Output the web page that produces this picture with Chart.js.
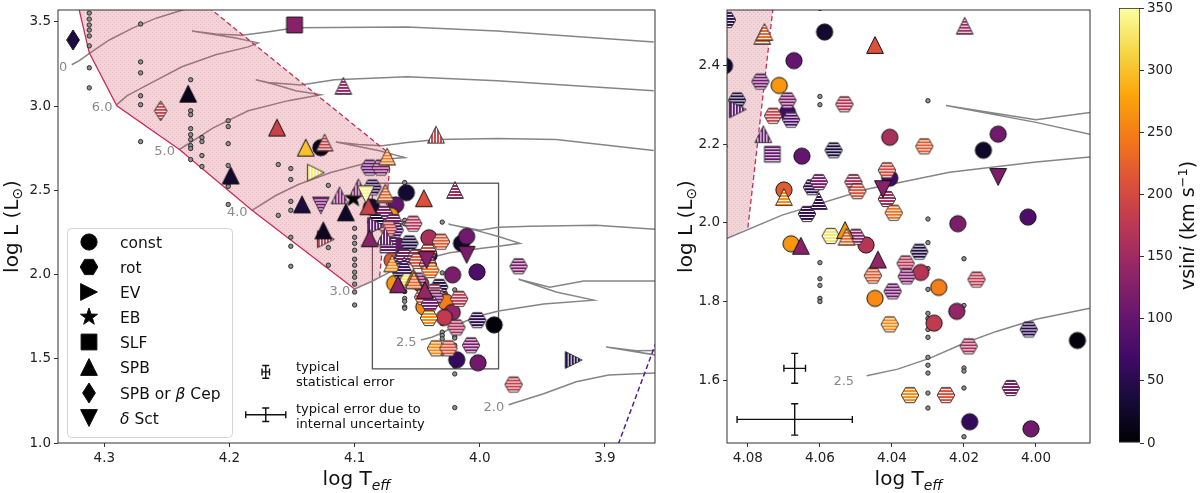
<!DOCTYPE html>
<html>
<head>
<meta charset="utf-8">
<script src="https://cdn.jsdelivr.net/npm/chart.js@4.4.1/dist/chart.umd.min.js"></script>
<style>
  html, body { margin: 0; padding: 0; background: #fff; }
  #wrap { position: relative; width: 1200px; height: 493px; overflow: hidden; }
  .pane { position: absolute; top: 0; }
</style>
</head>
<body>
<div id="wrap">
  <div class="pane" style="left:0"><canvas id="hrdFull" width="665" height="493"></canvas></div>
  <div class="pane" style="left:665px"><canvas id="hrdZoom" width="435" height="493"></canvas></div>
  <div class="pane" style="left:1100px"><canvas id="cbar" width="100" height="493"></canvas></div>
</div>
<script>
/* HR diagram of the sample: full view, zoom on the box, vsini colour bar */

const FONT = 'DejaVu Sans';

// axis ranges and ticks
const fullTRange = [3.86, 4.337];
const fullLRange = [1.0, 3.57];
const zoomTRange = [3.985, 4.0858];
const zoomLRange = [1.44, 2.542];
const fullTTicks = [4.3, 4.2, 4.1, 4.0, 3.9];
const fullLTicks = [1.0, 1.5, 2.0, 2.5, 3.0, 3.5];
const zoomTTicks = [4.08, 4.06, 4.04, 4.02, 4.00];
const zoomLTicks = [1.6, 1.8, 2.0, 2.2, 2.4];
const cbarRange = [0, 350];
const cbarTicks = [0, 50, 100, 150, 200, 250, 300, 350];

// classified stars: log Teff, log L, vsini, class, hatch (0 none, 1 horizontal, 2 vertical)
// classes: C const, R rot, E EV, B EB, Q SLF, T SPB, D SPB or beta Cep, V delta Sct
const starTeff = [
  4.325, 4.148, 4.109, 4.255, 4.233, 4.162, 4.139, 4.127, 4.124, 4.131,
  4.199, 4.142, 4.127, 4.112, 4.097, 4.101, 4.107, 4.074, 4.088, 4.079,
  4.091, 4.076, 4.089, 4.125, 4.123, 4.088, 4.035, 3.969, 3.925, 3.973,
  4.0865, 4.0858, 4.0754, 4.0587, 4.0447, 4.0198, 4.0672, 4.0765, 4.0713, 4.0830,
  4.0828, 4.0690, 4.0690, 4.0680, 4.0730, 4.0532, 4.0757, 4.0732, 4.0650, 4.0562,
  4.0406, 4.0310, 4.0146, 4.0105, 4.0105, 4.0022, 4.0700, 4.0700, 4.0622, 4.0603,
  4.0603, 4.0636, 4.0414, 4.0406, 4.0425, 4.0507, 4.0496, 4.0414, 4.0395, 4.0217,
  4.0570, 4.0530, 4.0526, 4.0500, 4.0680, 4.0653, 4.0472, 4.0324, 4.0439, 4.0362,
  4.0359, 4.0320, 4.0453, 4.0270, 4.0165, 4.0398, 4.0447, 4.0220, 4.0283, 4.0406,
  4.0020, 4.0187, 4.0070, 4.0350, 4.0250, 4.0184, 4.0014, 3.9885
];
const starLogL = [
  3.392, 3.481, 3.120, 2.972, 3.073, 2.872, 2.753, 2.753, 2.783, 2.605,
  2.588, 2.416, 2.410, 2.470, 2.517, 2.452, 2.369, 2.700, 2.635, 2.635,
  2.476, 2.476, 2.405, 2.262, 2.209, 2.215, 2.830, 2.049, 1.493, 1.347,
  2.400, 2.517, 2.486, 2.486, 2.453, 2.502, 2.413, 2.360, 2.350, 2.312,
  2.289, 2.312, 2.281, 2.263, 2.273, 2.302, 2.226, 2.175, 2.170, 2.185,
  2.218, 2.195, 2.185, 2.226, 2.117, 2.015, 2.084, 2.066, 2.091, 2.104,
  2.056, 2.023, 2.134, 2.114, 2.086, 2.104, 2.081, 2.061, 2.026, 1.998,
  1.967, 1.982, 1.965, 1.965, 1.947, 1.942, 1.944, 1.927, 1.907, 1.897,
  1.864, 1.874, 1.866, 1.836, 1.856, 1.826, 1.808, 1.775, 1.745, 1.742,
  1.729, 1.686, 1.580, 1.562, 1.562, 1.494, 1.476, 1.701
];
const starVsini = [
  40, 130, 140, 190, 15, 190, 300, 15, 190, 330,
  30, 40, 110, 120, 120, 0, 25, 250, 100, 120,
  340, 230, 190, 20, 180, 130, 190, 120, 40, 190,
  30, 50, 230, 30, 210, 150, 100, 110, 270, 40,
  90, 120, 70, 80, 190, 170, 100, 100, 100, 40,
  160, 220, 25, 110, 120, 80, 220, 260, 50, 120,
  60, 50, 200, 70, 130, 160, 210, 160, 240, 120,
  330, 270, 230, 130, 270, 130, 170, 40, 140, 170,
  120, 170, 220, 250, 180, 110, 260, 140, 180, 260,
  50, 160, 120, 260, 210, 60, 110, 5
];
const starClass = [
  'D','Q','T','D','T','T','T','C','T','E',
  'T','T','V','T','T','B','T','T','R','R',
  'V','T','T','T','E','T','T','R','E','R',
  'C','R','T','C','T','T','C','R','C','R',
  'E','R','C','R','R','R','T','Q','C','R',
  'C','R','C','C','V','C','C','T','R','R',
  'T','R','R','C','V','R','R','R','R','C',
  'R','T','T','R','C','T','C','R','T','R',
  'R','C','R','C','R','R','C','C','C','R',
  'R','R','R','R','R','C','C','C'
];
const starHatch = [
  0, 0, 1, 1, 0, 0, 0, 0, 1, 2,
  0, 0, 1, 2, 2, 0, 0, 1, 1, 1,
  1, 1, 0, 0, 2, 0, 2, 1, 2, 1,
  0, 1, 1, 0, 0, 1, 0, 1, 0, 1,
  2, 1, 0, 1, 1, 1, 2, 1, 0, 1,
  0, 1, 0, 0, 0, 0, 0, 1, 1, 1,
  1, 1, 1, 0, 0, 1, 1, 1, 1, 0,
  1, 0, 1, 1, 0, 0, 0, 1, 0, 1,
  1, 0, 1, 0, 1, 1, 0, 0, 0, 1,
  1, 1, 1, 1, 1, 0, 0, 0
];

// stars without classification (small dots), grouped by log Teff
const dotTeff = [4.312, 4.271, 4.231, 4.222, 4.201, 4.161, 4.151, 4.121, 4.100, 4.060, 4.030, 4.020];
const dotLogL = [
  [3.552, 3.516, 3.481, 3.451, 3.416, 3.357, 3.227, 3.108],
  [3.487, 3.262, 3.197, 3.061, 3.008, 2.789],
  [3.156, 2.972, 2.949, 2.866, 2.830, 2.801, 2.765, 2.748, 2.682],
  [2.813, 2.789, 2.706, 2.641],
  [2.913, 2.878, 2.777, 2.647, 2.535, 2.523, 2.416],
  [2.653, 2.351],
  [2.629, 2.564, 2.434, 2.381, 2.221, 2.168, 2.049],
  [2.529, 2.160, 2.055],
  [2.274, 2.221, 2.185, 2.144, 2.091, 2.055, 2.014, 1.984, 1.943, 1.896, 1.819],
  [2.546, 2.322, 2.301, 1.899, 1.858, 1.841, 1.808, 1.800],
  [2.311, 2.010, 1.950, 1.884, 1.831, 1.770, 1.757, 1.729, 1.709, 1.658, 1.638, 1.618, 1.567, 1.529],
  [1.909, 1.790, 1.631, 1.623, 1.580, 1.456, 1.410, 1.210]
];

// evolutionary tracks [log Teff, log L]
const track70 = [[4.326,3.245],[4.320,3.270],[4.309,3.327],[4.296,3.392],[4.277,3.464],[4.258,3.523],[4.240,3.564],[4.215,3.620]];
const track60 = [[4.290,3.008],[4.282,3.060],[4.264,3.132],[4.238,3.233],[4.211,3.304],[4.185,3.351],[4.177,3.375],[4.195,3.404],[4.230,3.446],[4.211,3.428],[4.190,3.420],[4.170,3.440],[4.147,3.464],[4.058,3.469],[3.986,3.446],[3.861,3.380]];
const track50 = [[4.240,2.742],[4.213,2.870],[4.185,2.972],[4.153,3.032],[4.127,3.067],[4.147,3.091],[4.163,3.126],[4.179,3.156],[4.169,3.140],[4.143,3.125],[4.116,3.156],[4.058,3.174],[3.986,3.150],[3.861,3.091]];
const track40 = [[4.182,2.381],[4.163,2.469],[4.145,2.534],[4.119,2.605],[4.092,2.659],[4.069,2.688],[4.060,2.694],[4.081,2.736],[4.115,2.786],[4.097,2.771],[4.078,2.765],[4.058,2.783],[4.034,2.801],[3.986,2.807],[3.939,2.801],[3.861,2.736]];
const track30 = [[4.100,1.914],[4.086,1.960],[4.0705,2.020],[4.047,2.086],[4.024,2.129],[4.000,2.155],[3.985,2.168],[3.968,2.185],[3.985,2.226],[4.000,2.256],[4.025,2.299],[4.000,2.263],[3.985,2.281],[3.960,2.287],[3.907,2.292],[3.859,2.268]];
const track25 = [[4.047,1.611],[4.0384,1.628],[4.0294,1.656],[4.020,1.694],[4.011,1.724],[4.000,1.755],[3.985,1.783],[3.949,1.825],[3.909,1.848],[3.939,1.896],[3.969,1.972],[3.944,1.925],[3.917,1.961],[3.859,1.961]];
const track20 = [[3.977,1.227],[3.949,1.292],[3.923,1.363],[3.897,1.404],[3.860,1.416],[3.840,1.420]];
const track20hook = [[3.840,1.515],[3.860,1.523],[3.899,1.570],[3.875,1.548],[3.840,1.550]];
const trackMass = ['7.0', '6.0', '5.0', '4.0', '3.0', '2.5', '2.0'];

// SPB instability strip (solid and dashed edges) and delta Sct blue edge
const stripSolid = [[4.321,3.60],[4.312,3.316],[4.290,3.002],[4.240,2.742],[4.182,2.381],[4.100,1.914]];
const stripBottom = [[4.086,1.960]];
const stripDashed = [[4.080,1.988],[4.071,2.710],[4.219,3.60]];
const dsctEdge = [[3.8915,0.95],[3.859,1.60]];

// typical error bars: [log Teff, log L] half sizes, and where they sit in each panel
const errHalfT = [0.003, 0.016];
const errHalfL = [0.038, 0.040];
const errFullT = [4.171, 4.171];
const errFullL = [1.422, 1.168];
const errZoomT = [4.067, 4.067];
const errZoomL = [1.630, 1.500];

const CLASS_ORDER = ['C', 'R', 'E', 'B', 'Q', 'T', 'D', 'V'];
const CLASS_LABEL = {
  C: [['const']], R: [['rot']], E: [['EV']], B: [['EB']], Q: [['SLF']], T: [['SPB']],
  D: [['SPB or '], ['β', 1], [' Cep']], V: [['δ', 1], [' Sct']]
};

const INFERNO = ['#000004','#160b39','#420a68','#6a176e','#932667','#bc3754','#dd513a','#f37819','#fca50a','#f6d746','#fcffa4'];

function hexRgb(h) { return [1, 3, 5].map(i => parseInt(h.substr(i, 2), 16)); }
function cmap(v) {
  const n = INFERNO.length - 1;
  const t = Math.max(0, Math.min(1, (v - cbarRange[0]) / (cbarRange[1] - cbarRange[0]))) * n;
  const i = Math.min(Math.floor(t), n - 1), f = t - i;
  const a = hexRgb(INFERNO[i]), b = hexRgb(INFERNO[i + 1]);
  return `rgb(${a.map((c, k) => Math.round(c + (b[k] - c) * f)).join(',')})`;
}

function markerPath(g, cls) {
  g.beginPath();
  const r = 8.4;
  if (cls === 'C') g.arc(0, 0, 8.1, 0, Math.PI * 2);
  else if (cls === 'R') {
    for (let k = 0; k < 6; k++) {
      const a = k * Math.PI / 3;
      g[k ? 'lineTo' : 'moveTo'](8.8 * Math.cos(a), 8.8 * Math.sin(a));
    }
  } else if (cls === 'E') { g.moveTo(r, 0); g.lineTo(-r, -r); g.lineTo(-r, r); }
  else if (cls === 'T') { g.moveTo(0, -r); g.lineTo(r, r); g.lineTo(-r, r); }
  else if (cls === 'V') { g.moveTo(0, r); g.lineTo(-r, -r); g.lineTo(r, -r); }
  else if (cls === 'Q') g.rect(-7.9, -7.9, 15.8, 15.8);
  else if (cls === 'D') { g.moveTo(0, -10); g.lineTo(6.4, 0); g.lineTo(0, 10); g.lineTo(-6.4, 0); }
  else if (cls === 'B') {
    for (let k = 0; k < 10; k++) {
      const a = -Math.PI / 2 + k * Math.PI / 5, rr = k % 2 ? 3.6 : 9;
      g[k ? 'lineTo' : 'moveTo'](rr * Math.cos(a), rr * Math.sin(a));
    }
  }
  g.closePath();
}

function makeMarker(cls, color, hatch) {
  const c = document.createElement('canvas');
  c.width = c.height = 24;
  const g = c.getContext('2d');
  g.translate(12, 12);
  markerPath(g, cls);
  g.fillStyle = color;
  g.fill();
  if (hatch) {
    g.save();
    g.clip();
    g.strokeStyle = '#fff';
    g.lineWidth = 1.1;
    g.beginPath();
    for (let p = -12; p <= 12; p += 3) {
      if (hatch === 1) { g.moveTo(-12, p + 0.5); g.lineTo(12, p + 0.5); }
      else { g.moveTo(p + 0.5, -12); g.lineTo(p + 0.5, 12); }
    }
    g.stroke();
    g.restore();
    markerPath(g, cls);
  }
  g.lineWidth = 1;
  g.strokeStyle = hatch ? '#3a3a3a' : '#111';
  g.stroke();
  return c;
}

const starImages = starClass.map((c, i) => makeMarker(c, cmap(starVsini[i]), starHatch[i]));
const legendImages = CLASS_ORDER.map(c => makeMarker(c, '#000', 0));

const toXY = arr => arr.map(p => ({ x: p[0], y: p[1] }));

const patterns = new WeakMap();
function stripFill(c) {
  const ctx = c.chart.ctx;
  if (!patterns.has(ctx)) {
    const t = document.createElement('canvas');
    t.width = t.height = 4;
    const g = t.getContext('2d');
    g.fillStyle = 'rgba(205,88,108,0.26)';
    g.fillRect(0, 0, 4, 4);
    g.fillStyle = 'rgba(185,60,85,0.20)';
    g.fillRect(0, 0, 1, 1); g.fillRect(2, 2, 1, 1);
    patterns.set(ctx, ctx.createPattern(t, 'repeat'));
  }
  return patterns.get(ctx);
}

function hrDatasets() {
  const ds = [];
  [track70, track60, track50, track40, track30, track25, track20, track20hook].forEach(t => ds.push({
    data: toXY(t), showLine: true, borderColor: '#858585', borderWidth: 1.5,
    pointRadius: 0, fill: false, order: 30, clip: 0
  }));
  ds.push({
    data: toXY(stripSolid.concat(stripBottom, stripDashed)), showLine: true,
    borderColor: 'rgba(0,0,0,0)', borderWidth: 0, pointRadius: 0,
    fill: 'shape', backgroundColor: stripFill, order: 29, clip: 0
  });
  ds.push({ data: toXY(stripSolid), showLine: true, borderColor: '#c62d5b', borderWidth: 1.3, pointRadius: 0, order: 28, clip: 0 });
  ds.push({ data: toXY(stripDashed), showLine: true, borderColor: '#c62d5b', borderWidth: 1.3, borderDash: [5, 3], pointRadius: 0, order: 28, clip: 0 });
  ds.push({ data: toXY(dsctEdge), showLine: true, borderColor: '#5b1a8e', borderWidth: 1.5, borderDash: [5, 3], pointRadius: 0, order: 28, clip: 0 });
  const dots = [];
  dotTeff.forEach((t, i) => dotLogL[i].forEach(l => dots.push({ x: t, y: l })));
  ds.push({
    data: dots, pointRadius: 2.2, pointBackgroundColor: '#8e8e8e',
    pointBorderColor: '#222', pointBorderWidth: 0.9, order: 25, clip: 0
  });
  CLASS_ORDER.forEach((cls, k) => {
    const idx = starClass.map((c, i) => c === cls ? i : -1).filter(i => i >= 0);
    ds.push({
      data: idx.map(i => ({ x: starTeff[i], y: starLogL[i] })),
      pointStyle: idx.map(i => starImages[i]),
      pointRadius: 9, order: 17 - k, clip: 0
    });
  });
  return ds;
}

function hrOptions(tRange, lRange, tTicks, lTicks, tDec, yWidth, padRight) {
  const tickFont = { family: FONT, size: 13.5 };
  return {
    responsive: false, animation: false, events: [],
    layout: { padding: { left: 0, right: padRight, top: 7, bottom: 0 } },
    plugins: { legend: { display: false }, tooltip: { enabled: false } },
    scales: {
      x: {
        type: 'linear', reverse: true, min: tRange[0], max: tRange[1],
        afterBuildTicks: s => { s.ticks = tTicks.map(v => ({ value: v })); },
        afterFit: s => { s.height = 50; s.paddingLeft = 0; s.paddingRight = 0; },
        ticks: { callback: v => v.toFixed(tDec), font: tickFont, color: '#222', padding: 3, maxRotation: 0, autoSkip: false },
        grid: { drawOnChartArea: false, drawTicks: true, tickLength: 4, color: '#333' },
        border: { display: false }
      },
      y: {
        type: 'linear', min: lRange[0], max: lRange[1],
        afterBuildTicks: s => { s.ticks = lTicks.map(v => ({ value: v })); },
        afterFit: s => { s.width = yWidth; s.paddingTop = 0; s.paddingBottom = 0; },
        ticks: { callback: v => v.toFixed(1), font: tickFont, color: '#222', padding: 3, autoSkip: false },
        grid: { drawOnChartArea: false, drawTicks: true, tickLength: 4, color: '#333' },
        border: { display: false }
      }
    }
  };
}

// text made of runs with their own font / shift
function drawRuns(ctx, x, y, runs, align, rot) {
  ctx.save();
  ctx.translate(x, y);
  if (rot) ctx.rotate(rot);
  let w = 0;
  runs.forEach(r => { ctx.font = r.f; w += ctx.measureText(r.t).width; });
  let cx = align === 'center' ? -w / 2 : align === 'right' ? -w : 0;
  ctx.textAlign = 'left';
  ctx.textBaseline = 'alphabetic';
  ctx.fillStyle = '#111';
  runs.forEach(r => { ctx.font = r.f; ctx.fillText(r.t, cx, r.dy || 0); cx += ctx.measureText(r.t).width; });
  ctx.restore();
}

function drawAxisTitles(chart, yTitleX) {
  const a = chart.chartArea, ctx = chart.ctx;
  drawRuns(ctx, (a.left + a.right) / 2, 485, [
    { t: 'log T', f: `20px ${FONT}` },
    { t: 'eff', f: `italic 14px ${FONT}`, dy: 5 }
  ], 'center');
  drawRuns(ctx, yTitleX, (a.top + a.bottom) / 2, [
    { t: 'log L (L', f: `20px ${FONT}` },
    { t: '⊙', f: `14px ${FONT}`, dy: 4 },
    { t: ')', f: `20px ${FONT}` }
  ], 'center', -Math.PI / 2);
}

function drawFrame(chart) {
  const a = chart.chartArea, ctx = chart.ctx;
  ctx.save();
  ctx.strokeStyle = '#333';
  ctx.lineWidth = 1;
  ctx.strokeRect(a.left, a.top, a.right - a.left, a.bottom - a.top);
  ctx.restore();
}

function drawTrackLabels(chart) {
  const { ctx, chartArea: a, scales: { x, y } } = chart;
  const starts = [track70, track60, track50, track40, track30, track25, track20].map(t => t[0]);
  ctx.save();
  ctx.beginPath();
  ctx.rect(a.left, a.top, a.right - a.left, a.bottom - a.top);
  ctx.clip();
  ctx.font = `13px ${FONT}`;
  ctx.fillStyle = '#8a8a8a';
  ctx.textAlign = 'right';
  ctx.textBaseline = 'middle';
  starts.forEach((p, i) => {
    ctx.fillText(trackMass[i], x.getPixelForValue(p[0] + 0.0035), y.getPixelForValue(p[1] - 0.015));
  });
  ctx.restore();
}

function drawErrors(chart, ts, ls) {
  const { ctx, scales: { x, y } } = chart;
  ctx.save();
  ctx.strokeStyle = '#111';
  ctx.lineWidth = 1.4;
  ts.forEach((t, i) => {
    const cx = x.getPixelForValue(t), cy = y.getPixelForValue(ls[i]);
    const x1 = x.getPixelForValue(t + errHalfT[i]), x2 = x.getPixelForValue(t - errHalfT[i]);
    const y1 = y.getPixelForValue(ls[i] + errHalfL[i]), y2 = y.getPixelForValue(ls[i] - errHalfL[i]);
    const cap = 3.5;
    ctx.beginPath();
    ctx.moveTo(x1, cy); ctx.lineTo(x2, cy);
    ctx.moveTo(cx, y1); ctx.lineTo(cx, y2);
    ctx.moveTo(x1, cy - cap); ctx.lineTo(x1, cy + cap);
    ctx.moveTo(x2, cy - cap); ctx.lineTo(x2, cy + cap);
    ctx.moveTo(cx - cap, y1); ctx.lineTo(cx + cap, y1);
    ctx.moveTo(cx - cap, y2); ctx.lineTo(cx + cap, y2);
    ctx.stroke();
  });
  ctx.restore();
}

function drawLegend(chart) {
  const ctx = chart.ctx;
  ctx.save();
  ctx.beginPath();
  ctx.roundRect(67.5, 228.5, 165, 209, 4);
  ctx.fillStyle = 'rgba(255,255,255,0.85)';
  ctx.fill();
  ctx.strokeStyle = '#d4d4d4';
  ctx.lineWidth = 1;
  ctx.stroke();
  const rows = [242, 267, 292, 317, 342, 367, 393, 418];
  CLASS_ORDER.forEach((cls, k) => {
    const img = legendImages[k];
    ctx.drawImage(img, 89 - img.width / 2, rows[k] - img.height / 2);
    drawRuns(ctx, 120, rows[k] + 5.5, CLASS_LABEL[cls].map(p => ({
      t: p[0], f: `${p[1] ? 'italic ' : ''}15.5px ${FONT}`
    })), 'left');
  });
  ctx.restore();
}

// left panel: full diagram
new Chart(document.getElementById('hrdFull'), {
  type: 'scatter',
  data: { datasets: hrDatasets() },
  options: hrOptions(fullTRange, fullLRange, fullTTicks, fullLTicks, 1, 58, 6),
  plugins: [{
    id: 'zoomBox',
    beforeDatasetsDraw(chart) {
      const { ctx, scales: { x, y } } = chart;
      const l = x.getPixelForValue(zoomTRange[1]), r = x.getPixelForValue(zoomTRange[0]);
      const t = y.getPixelForValue(zoomLRange[1]), b = y.getPixelForValue(zoomLRange[0]);
      ctx.save();
      ctx.strokeStyle = '#555';
      ctx.lineWidth = 1.3;
      ctx.strokeRect(l, t, r - l, b - t);
      ctx.restore();
    }
  }, {
    id: 'annot',
    afterDatasetsDraw(chart) {
      drawTrackLabels(chart);
      drawErrors(chart, errFullT, errFullL);
      const ctx = chart.ctx;
      ctx.save();
      ctx.font = `13px ${FONT}`;
      ctx.fillStyle = '#111';
      ctx.textBaseline = 'middle';
      ctx.fillText('typical', 296, 368);
      ctx.fillText('statistical error', 296, 383);
      ctx.fillText('typical error due to', 296, 410);
      ctx.fillText('internal uncertainty', 296, 425);
      ctx.restore();
    },
    afterDraw(chart) {
      drawFrame(chart);
      drawLegend(chart);
      drawAxisTitles(chart, 18);
    }
  }]
});

// right panel: zoom on the box
new Chart(document.getElementById('hrdZoom'), {
  type: 'scatter',
  data: { datasets: hrDatasets() },
  options: hrOptions(zoomTRange, zoomLRange, zoomTTicks, zoomLTicks, 2, 62, 5),
  plugins: [{
    id: 'annot',
    afterDatasetsDraw(chart) {
      drawTrackLabels(chart);
      drawErrors(chart, errZoomT, errZoomL);
    },
    afterDraw(chart) {
      drawFrame(chart);
      drawAxisTitles(chart, 27);
    }
  }]
});

// colour bar
new Chart(document.getElementById('cbar'), {
  type: 'bar',
  data: {
    labels: ['vsini'],
    datasets: [{
      data: [cbarRange],
      backgroundColor(c) {
        const a = c.chart.chartArea;
        if (!a) return '#000';
        const g = c.chart.ctx.createLinearGradient(0, a.bottom, 0, a.top);
        INFERNO.forEach((col, i) => g.addColorStop(i / (INFERNO.length - 1), col));
        return g;
      },
      borderColor: '#222', borderWidth: 1, borderSkipped: false,
      barPercentage: 1, categoryPercentage: 1
    }]
  },
  options: {
    responsive: false, animation: false, events: [],
    layout: { padding: { left: 19, right: 0, top: 8, bottom: 50 } },
    plugins: { legend: { display: false }, tooltip: { enabled: false } },
    scales: {
      x: { display: false },
      y: {
        position: 'right', min: cbarRange[0], max: cbarRange[1],
        afterBuildTicks: s => { s.ticks = cbarTicks.map(v => ({ value: v })); },
        afterFit: s => { s.width = 60; s.paddingTop = 0; s.paddingBottom = 0; },
        ticks: { font: { family: FONT, size: 13.5 }, color: '#222', padding: 3, autoSkip: false },
        grid: { drawOnChartArea: false, drawTicks: true, tickLength: 4, color: '#333' },
        border: { display: false }
      }
    }
  },
  plugins: [{
    id: 'cbarTitle',
    afterDraw(chart) {
      const a = chart.chartArea;
      drawRuns(chart.ctx, 94, (a.top + a.bottom) / 2, [
        { t: 'vsin', f: `19px ${FONT}` },
        { t: 'i', f: `italic 19px ${FONT}` },
        { t: ' (km s', f: `19px ${FONT}` },
        { t: '−1', f: `13px ${FONT}`, dy: -7.5 },
        { t: ')', f: `19px ${FONT}` }
      ], 'center', -Math.PI / 2);
    }
  }]
});
</script>
</body>
</html>
